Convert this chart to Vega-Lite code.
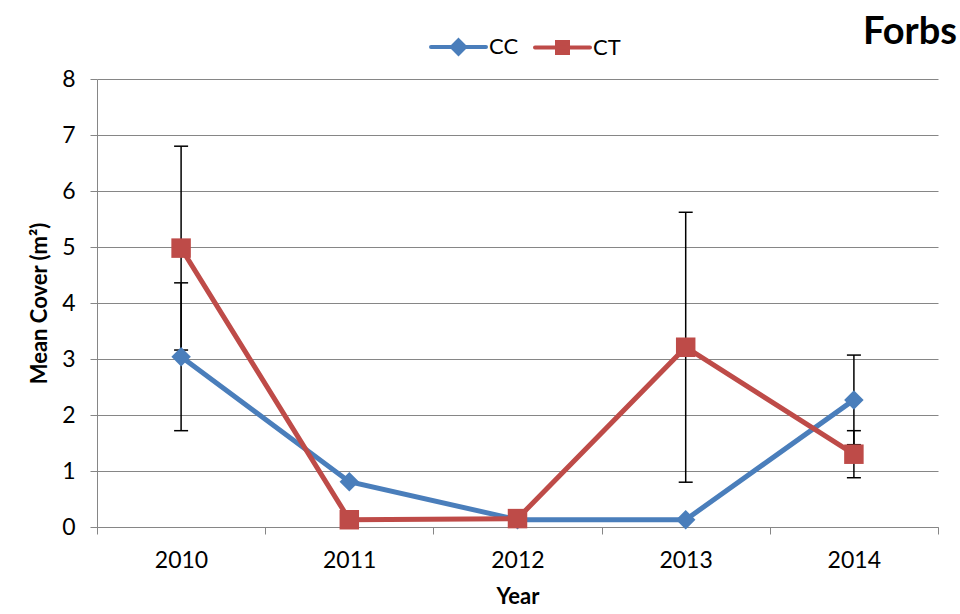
{
  "$schema": "https://vega.github.io/schema/vega-lite/v6.json",
  "width": 841,
  "height": 448,
  "autosize": {"type": "none"},
  "padding": {"left": 97, "top": 79, "right": 22, "bottom": 87},
  "background": "white",
  "title": {"text": "Forbs", "anchor": "end", "frame": "group", "font": "Lato", "fontSize": 38, "fontWeight": "bold", "color": "black", "baseline": "alphabetic", "offset": 32, "dx": 19, "dy": 97},
  "config": {"view": {"stroke": null}, "font": "Lato"},
  "data": {"values": [
    {"year": 2010, "series": "CC", "mean": 3.04, "lo": 1.72, "hi": 4.36},
    {"year": 2011, "series": "CC", "mean": 0.81, "lo": null, "hi": null},
    {"year": 2012, "series": "CC", "mean": 0.13, "lo": null, "hi": null},
    {"year": 2013, "series": "CC", "mean": 0.13, "lo": null, "hi": null},
    {"year": 2014, "series": "CC", "mean": 2.27, "lo": 1.47, "hi": 3.07},
    {"year": 2010, "series": "CT", "mean": 4.98, "lo": 3.16, "hi": 6.80},
    {"year": 2011, "series": "CT", "mean": 0.13, "lo": null, "hi": null},
    {"year": 2012, "series": "CT", "mean": 0.15, "lo": null, "hi": null},
    {"year": 2013, "series": "CT", "mean": 3.21, "lo": 0.80, "hi": 5.62},
    {"year": 2014, "series": "CT", "mean": 1.30, "lo": 0.88, "hi": 1.72}
  ]},
  "encoding": {
    "x": {
      "field": "year", "type": "quantitative",
      "scale": {"domain": [2009.5, 2014.5], "nice": false, "zero": false},
      "axis": {
        "values": [2009.5, 2010.5, 2011.5, 2012.5, 2013.5, 2014.5],
        "labelExpr": "datum.value < 2014 ? format(datum.value + 0.5, 'd') : ''",
        "labelOffset": 84,
        "labelOverlap": false,
        "labelBound": false,
        "labelFlush": false,
        "grid": false,
        "domainColor": "#868686",
        "tickColor": "#868686",
        "tickSize": 7,
        "labelFont": "Lato",
        "labelFontSize": 23,
        "labelColor": "black",
        "labelPadding": 15,
        "title": "Year",
        "titleFont": "Lato",
        "titleFontSize": 22,
        "titleFontWeight": "bold",
        "titleColor": "black",
        "titlePadding": 14
      }
    }
  },
  "layer": [
    {
      "mark": {"type": "line", "strokeWidth": 5},
      "encoding": {
        "y": {
          "field": "mean", "type": "quantitative",
          "scale": {"domain": [0, 8], "nice": false},
          "axis": {
            "values": [0, 1, 2, 3, 4, 5, 6, 7, 8],
            "format": "d",
            "gridColor": "#868686",
            "gridWidth": 1,
            "domainColor": "#868686",
            "tickColor": "#868686",
            "tickSize": 7,
            "labelFont": "Lato",
            "labelFontSize": 23,
            "labelColor": "black",
            "labelPadding": 15,
            "title": "Mean Cover (m²)",
            "titleFont": "Lato",
            "titleFontSize": 22,
            "titleFontWeight": "bold",
            "titleColor": "black",
            "titlePadding": 10
          }
        },
        "color": {
          "field": "series", "type": "nominal",
          "scale": {"domain": ["CC", "CT"], "range": ["#4A7EBB", "#BE4B48"]},
          "legend": {
            "orient": "none",
            "legendX": 332,
            "legendY": -62,
            "direction": "horizontal",
            "title": null,
            "padding": 0,
            "labelFont": "Lato",
            "labelFontSize": 22,
            "labelColor": "black",
            "labelOffset": 1,
            "columnPadding": 8,
            "symbolSize": 3025,
            "symbolStrokeWidth": 4,
            "encode": {
              "symbols": {
                "update": {
                  "shape": {"signal": "datum.value === 'CC' ? 'M-1,0H1M0,-0.24L0.24,0L0,0.24L-0.24,0Z' : 'M-1,0H1M-0.2,-0.2H0.2V0.2H-0.2Z'"},
                  "fill": {"signal": "datum.value === 'CC' ? '#4A7EBB' : '#BE4B48'"},
                  "stroke": {"signal": "datum.value === 'CC' ? '#4A7EBB' : '#BE4B48'"},
                  "strokeWidth": {"value": 4},
                  "strokeCap": {"value": "round"},
                  "opacity": {"value": 1},
                  "fillOpacity": {"value": 1},
                  "strokeOpacity": {"value": 1}
                }
              }
            }
          }
        }
      }
    },
    {
      "mark": {"type": "rule", "color": "black", "strokeWidth": 1.5},
      "encoding": {
        "y": {"field": "lo", "type": "quantitative"},
        "y2": {"field": "hi"},
        "detail": {"field": "series", "type": "nominal"}
      }
    },
    {
      "mark": {"type": "tick", "orient": "horizontal", "color": "black", "size": 14, "thickness": 1.5, "opacity": 1},
      "encoding": {
        "y": {"field": "hi", "type": "quantitative"},
        "detail": {"field": "series", "type": "nominal"}
      }
    },
    {
      "mark": {"type": "tick", "orient": "horizontal", "color": "black", "size": 14, "thickness": 1.5, "opacity": 1},
      "encoding": {
        "y": {"field": "lo", "type": "quantitative"},
        "detail": {"field": "series", "type": "nominal"}
      }
    },
    {
      "mark": {"type": "point", "filled": true, "opacity": 1, "size": 380},
      "encoding": {
        "y": {"field": "mean", "type": "quantitative"},
        "color": {"field": "series", "type": "nominal"},
        "shape": {"condition": {"test": "datum.series === 'CC'", "value": "diamond"}, "value": "square"}
      }
    }
  ]
}
